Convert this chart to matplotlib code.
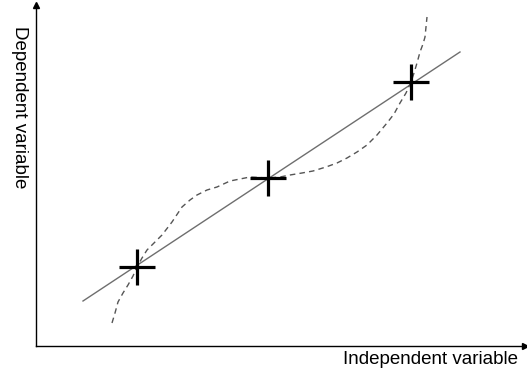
import matplotlib.pyplot as plt

# values (arbitrary units)
point_x = [101, 232, 375]
point_y = [79, 168, 264]

fit_x = [47, 424]
fit_y = [45, 294]

curve_x = [76, 79, 82, 87, 92, 97, 101, 106, 111, 118, 126, 136, 146, 154, 161, 171, 181, 194,
           204, 214, 232, 244, 254, 266, 277, 290, 301, 311, 321, 331, 341, 351, 358, 364, 370,
           375, 378, 381, 384, 387, 389, 391]
curve_y = [23, 33, 44, 53, 61, 70, 79, 88, 96, 103, 111, 124, 139, 146, 151, 156, 159, 165,
           167, 169, 168, 169, 171, 173, 175, 179, 183, 188, 194, 201, 211, 223, 232, 243, 253,
           264, 273, 283, 294, 302, 309, 329]

plt.rcParams['font.family'] = ['Liberation Sans', 'DejaVu Sans']

fig = plt.figure(figsize=(5.27, 3.71), dpi=100)
ax = fig.add_axes([36 / 527, 25 / 371, 489 / 527, 341 / 371])
ax.set_xlim(0, 489)
ax.set_ylim(0, 341)

ax.plot(fit_x, fit_y, color='#6e6e6e', linewidth=1.0)
ax.plot(curve_x, curve_y, color='#555555', linewidth=1.0, linestyle=(0, (4, 3)))
ax.plot(point_x, point_y, linestyle='none', marker='+', markersize=26,
        markeredgewidth=2.3, color='black')

for side in ['top', 'right']:
    ax.spines[side].set_visible(False)
for side in ['left', 'bottom']:
    ax.spines[side].set_linewidth(1.0)
ax.set_xticks([])
ax.set_yticks([])

# arrow heads on the axes
ax.plot(1, 0, '>k', markersize=4, transform=ax.transAxes, clip_on=False)
ax.plot(0, 1, '^k', markersize=4, transform=ax.transAxes, clip_on=False)

fig.text(518 / 527, 1 - 351 / 371, 'Independent variable', ha='right', va='top', fontsize=13.5)
fig.text(19 / 527, 1 - 26 / 371, 'Dependent variable', rotation=-90, ha='center', va='top',
         fontsize=13.5)

fig.savefig('out.png', dpi=100)
